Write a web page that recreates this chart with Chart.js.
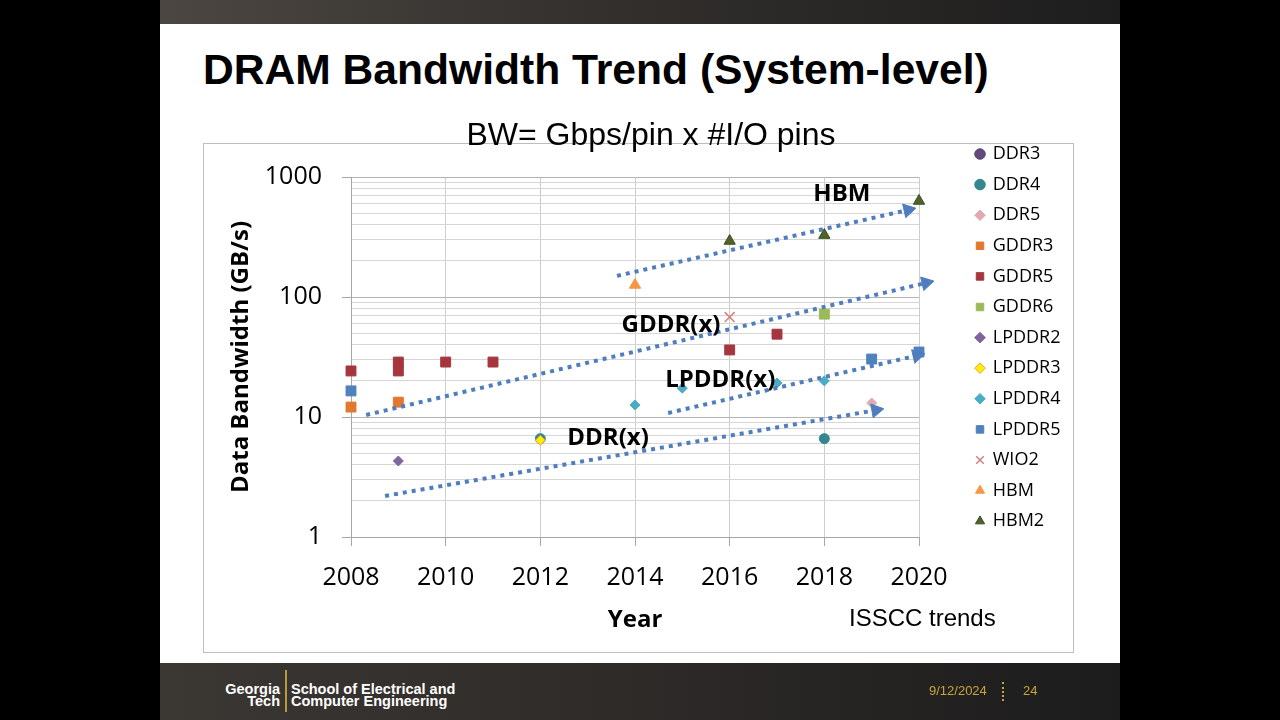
<!DOCTYPE html>
<html>
<head>
<meta charset="utf-8">
<title>DRAM Bandwidth Trend (System-level)</title>
<script src="https://cdn.jsdelivr.net/npm/chart.js@4.4.1/dist/chart.umd.min.js"></script>
<style>
  html, body { margin: 0; padding: 0; width: 1280px; height: 720px; background: #000; overflow: hidden; }
  .abs { position: absolute; }
  #slide { left: 160px; top: 0; width: 960px; height: 720px; background: #fff; }
  #topbar { left: 160px; top: 0; width: 960px; height: 24px; background: linear-gradient(to right, #4b4641, #33302d 45%, #1d1d1d); }
  #footer { left: 160px; top: 663px; width: 960px; height: 57px; background: linear-gradient(to right, #3b3733, #2d2a28 50%, #1c1c1c); }
  #heading { left: 203px; top: 48px; margin: 0; font: bold 42.6px/42px "Liberation Sans", Arial, sans-serif; color: #000; white-space: nowrap; }
  #frame { left: 203px; top: 143px; width: 871px; height: 510px; box-sizing: border-box; border: 1px solid #bdbdbd; }
  #chartBox { left: 203px; top: 110px; width: 896px; height: 543px; }
  #source { left: 849px; top: 606px; font: 24px/24px "Liberation Sans", Arial, sans-serif; color: #000; white-space: nowrap; }
  .gt { font: bold 14.5px/12px "Liberation Sans", Arial, sans-serif; color: #fff; white-space: nowrap; }
  #gtName { left: 200px; top: 683px; width: 80px; text-align: right; }
  #gtBar { left: 285px; top: 670px; width: 2px; height: 42px; background: #b99a3c; }
  #gtSchool { left: 291px; top: 683px; }
  .meta { font: 13px/13px "Liberation Sans", Arial, sans-serif; color: #c9a43a; }
  #date { left: 929px; top: 684px; }
  #sep { left: 1002px; top: 682px; width: 2px; height: 19px; border-left: 2px dotted #c9a43a; }
  #page { left: 1023px; top: 684px; }
</style>
</head>
<body>
<div id="slide" class="abs"></div>
<div id="topbar" class="abs"></div>
<h1 id="heading" class="abs">DRAM Bandwidth Trend (System-level)</h1>
<div id="frame" class="abs"></div>
<div id="chartBox" class="abs"><canvas id="bwChart" width="896" height="543"></canvas></div>
<div id="source" class="abs">ISSCC trends</div>
<div id="footer" class="abs"></div>
<div id="gtName" class="abs gt">Georgia<br>Tech</div>
<div id="gtBar" class="abs"></div>
<div id="gtSchool" class="abs gt">School of Electrical and<br>Computer Engineering</div>
<div id="date" class="abs meta">9/12/2024</div>
<div id="sep" class="abs"></div>
<div id="page" class="abs meta">24</div>

<script>
// axis ticks
const yearTicks = [2008, 2010, 2012, 2014, 2016, 2018, 2020];
const bwMajor = [1, 10, 100, 1000];
const bwMinorSteps = [2, 3, 4, 5, 6, 7, 8, 9];

// ISSCC papers, year vs bandwidth (GB/s)
const ddr3Year = [];               const ddr3BW = [];
const ddr4Year = [2012, 2018];     const ddr4BW = [6.6, 6.6];
const ddr5Year = [2019];           const ddr5BW = [13.1];
const gddr3Year = [2008, 2009];    const gddr3BW = [12.1, 13.3];
const gddr5Year = [2008, 2009, 2009, 2010, 2011, 2016, 2017];
const gddr5BW = [24.2, 24.2, 28.7, 28.7, 28.7, 36.2, 49];
const gddr6Year = [2018];          const gddr6BW = [72];
const lpddr2Year = [2009];         const lpddr2BW = [4.3];
const lpddr3Year = [2012];         const lpddr3BW = [6.4];
const lpddr4Year = [2014, 2015, 2017, 2018]; const lpddr4BW = [12.6, 17.4, 19.2, 20];
const lpddr5Year = [2008, 2019, 2020];       const lpddr5BW = [16.5, 30.4, 34.8];
const wio2Year = [2016];           const wio2BW = [68];
const hbmYear = [2014];            const hbmBW = [126];
const hbm2Year = [2016, 2018, 2020]; const hbm2BW = [293, 328, 631];

// dotted trend arrows and their captions
const trendNames = ['HBM', 'GDDR(x)', 'LPDDR(x)', 'DDR(x)'];
const trendStartYear = [2013.62, 2008.32, 2014.70, 2008.72];
const trendStartBW = [150, 10.4, 10.8, 2.2];
const trendEndYear = [2019.77, 2020.15, 2019.96, 2019.09];
const trendEndBW = [531, 131, 32.5, 11.4];
const captionYear = [2018.37, 2014.76, 2015.80, 2013.43];
const captionBW = [722, 58.4, 20.3, 6.68];

const bwTicks = [];
bwMajor.forEach(m => {
  bwTicks.push(m);
  if (m < 1000) bwMinorSteps.forEach(k => bwTicks.push(m * k));
});

const trendColor = '#4f7dc0';

function points(xs, ys) {
  return xs.map((x, i) => ({ x: x, y: ys[i] }));
}

function series(label, xs, ys, style, color, radius, extra) {
  return Object.assign({
    label: label,
    data: points(xs, ys),
    pointStyle: style,
    pointRadius: radius,
    pointHoverRadius: radius,
    pointBackgroundColor: color,
    pointBorderColor: color,
    pointBorderWidth: 1,
    backgroundColor: color,
    borderColor: color,
    clip: false,
    order: 2
  }, extra || {});
}

const pointSets = [
  series('DDR3', ddr3Year, ddr3BW, 'circle', '#604a7b', 5),
  series('DDR4', ddr4Year, ddr4BW, 'circle', '#35878f', 5),
  series('DDR5', ddr5Year, ddr5BW, 'rectRot', '#dfaab1', 5),
  series('GDDR3', gddr3Year, gddr3BW, 'rect', '#e0782f', 7),
  series('GDDR5', gddr5Year, gddr5BW, 'rect', '#a5363e', 7),
  series('GDDR6', gddr6Year, gddr6BW, 'rect', '#9bbb59', 7),
  series('LPDDR2', lpddr2Year, lpddr2BW, 'rectRot', '#8064a2', 5),
  series('LPDDR3', lpddr3Year, lpddr3BW, 'rectRot', '#ffee00', 5, { pointBorderColor: '#f0a040', borderColor: '#f0a040', order: 1 }),
  series('LPDDR4', lpddr4Year, lpddr4BW, 'rectRot', '#4bacc6', 5),
  series('LPDDR5', lpddr5Year, lpddr5BW, 'rect', '#4f81bd', 7),
  series('WIO2', wio2Year, wio2BW, 'crossRot', '#d47f7f', 7, { pointBorderWidth: 1.5 }),
  series('HBM', hbmYear, hbmBW, 'triangle', '#f79646', 6.5),
  series('HBM2', hbm2Year, hbm2BW, 'triangle', '#4f6228', 6.5, { pointBorderColor: '#3d4d1f', borderColor: '#3d4d1f' })
];

// arrow head follows the direction of its line on screen
function arrowRotation(ctx) {
  const d = ctx.dataset.data;
  const xs = ctx.chart.scales.x, ys = ctx.chart.scales.y;
  const dx = xs.getPixelForValue(d[1].x) - xs.getPixelForValue(d[0].x);
  const dy = ys.getPixelForValue(d[1].y) - ys.getPixelForValue(d[0].y);
  return Math.atan2(dy, dx) * 180 / Math.PI + 90;
}

const trendSets = trendNames.map((name, i) => ({
  label: name,
  isTrend: true,
  data: [{ x: trendStartYear[i], y: trendStartBW[i] }, { x: trendEndYear[i], y: trendEndBW[i] }],
  showLine: true,
  borderColor: trendColor,
  borderWidth: 4,
  borderDash: [4, 5],
  borderCapStyle: 'butt',
  pointStyle: 'triangle',
  pointRadius: [0, 8],
  pointHoverRadius: [0, 8],
  pointBackgroundColor: trendColor,
  pointBorderColor: trendColor,
  pointBorderWidth: 1,
  pointRotation: arrowRotation,
  clip: false,
  order: 0
}));

const trendCaptions = {
  id: 'trendCaptions',
  afterDatasetsDraw(chart) {
    const { ctx, scales: { x, y } } = chart;
    ctx.save();
    ctx.font = 'bold 24px "Open Sans"';
    ctx.fillStyle = '#000';
    ctx.textAlign = 'center';
    ctx.textBaseline = 'middle';
    trendNames.forEach((name, i) => {
      ctx.fillText(name, x.getPixelForValue(captionYear[i]), y.getPixelForValue(captionBW[i]));
    });
    ctx.restore();
  }
};

// layout: plot area spans canvas x 148..716, y 67..427; legend markers at canvas x 777
const canvasW = 896, canvasH = 543;
const plotLeft = 148, plotRight = 716, plotBottom = 427;
const legendFont = 18, legendBox = 7.5, legendPad = 12.6, legendMarkerX = 777;

Chart.defaults.font.family = '"Open Sans", sans-serif';
Chart.defaults.color = '#000';

new Chart(document.getElementById('bwChart'), {
  type: 'scatter',
  data: { datasets: trendSets.concat(pointSets) },
  options: {
    responsive: false,
    animation: false,
    events: [],
    scales: {
      x: {
        type: 'linear',
        min: 2008,
        max: 2020,
        afterBuildTicks: s => { s.ticks = yearTicks.map(v => ({ value: v })); },
        afterFit: s => { s.height = canvasH - plotBottom; s.paddingRight = canvasW - plotRight; },
        ticks: { callback: v => String(v), font: { size: 25 }, color: '#000', padding: 17, maxRotation: 0, autoSkip: false },
        grid: { color: '#cdcdcd', tickColor: '#a6a6a6', tickLength: 9 },
        border: { color: '#a6a6a6' },
        title: { display: true, text: 'Year', color: '#000', font: { size: 24, weight: 'bold' }, padding: { top: 0, bottom: 18.6 } }
      },
      y: {
        type: 'logarithmic',
        min: 1,
        max: 1000,
        afterBuildTicks: s => { s.ticks = bwTicks.map(v => ({ value: v })); },
        afterFit: s => { s.width = plotLeft; },
        ticks: { callback: v => bwMajor.includes(v) ? String(v) : '', font: { size: 25 }, color: '#000', padding: 20, autoSkip: false },
        grid: {
          color: c => (c.tick && bwMajor.includes(c.tick.value)) ? '#b4b4b4' : '#d6d6d6',
          tickColor: c => (c.tick && bwMajor.includes(c.tick.value)) ? '#a6a6a6' : 'rgba(0,0,0,0)',
          tickLength: 9
        },
        border: { color: '#a6a6a6' },
        title: {
          display: true,
          text: 'Data Bandwidth (GB/s)',
          color: '#000',
          font: { size: 24, weight: 'bold', lineHeight: 1 },
          padding: { top: 26, bottom: 0 }
        }
      },
      // empty axis that only keeps the legend away from the plot
      gap: {
        type: 'linear',
        position: 'right',
        afterFit: s => { s.width = legendMarkerX - legendPad - legendBox / 2 - plotRight; },
        grid: { display: false, drawTicks: false },
        ticks: { display: false },
        border: { display: false }
      }
    },
    plugins: {
      title: {
        display: true,
        text: 'BW= Gbps/pin x #I/O pins',
        color: '#000',
        font: { family: '"Liberation Sans", Arial, sans-serif', size: 32, weight: 'normal', lineHeight: 1.2 },
        padding: { top: 6.8, bottom: 21.8 }
      },
      legend: {
        position: 'right',
        align: 'start',
        title: { display: true, text: '', font: { size: 10, lineHeight: 1.2 }, padding: { top: 10.4, bottom: 0 } },
        labels: {
          usePointStyle: true,
          boxWidth: legendBox,
          boxHeight: legendBox,
          padding: legendPad,
          color: '#000',
          font: { size: legendFont },
          filter: (item, data) => !data.datasets[item.datasetIndex].isTrend,
          sort: (a, b) => a.datasetIndex - b.datasetIndex
        }
      },
      tooltip: { enabled: false }
    }
  },
  plugins: [trendCaptions]
});
</script>
</body>
</html>
